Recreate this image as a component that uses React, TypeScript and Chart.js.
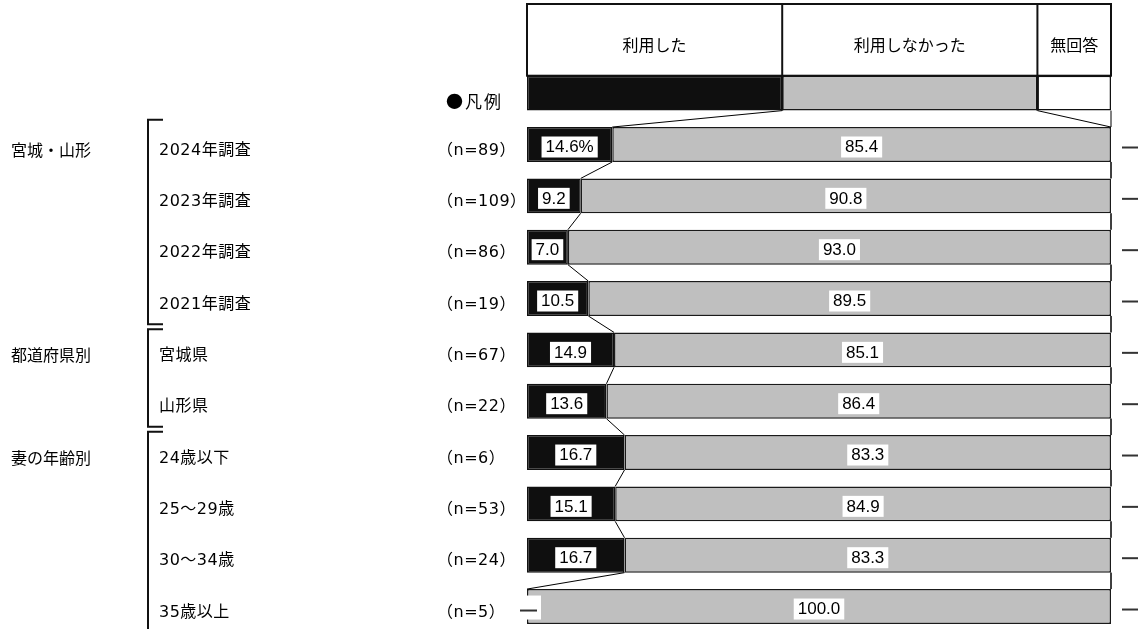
import React, { useEffect, useRef } from 'react';
import { Chart, registerables } from 'chart.js';

Chart.register(...registerables);

const legendLabel = '●凡例';
const seriesNames = ['利用した', '利用しなかった', '無回答'];
const legendShares = [43.7, 43.7, 12.6];
const groupLabels = ['宮城・山形', '都道府県別', '妻の年齢別'];
const groupSizes = [4, 2, 4];
const rowLabels = ['2024年調査', '2023年調査', '2022年調査', '2021年調査', '宮城県', '山形県', '24歳以下', '25～29歳', '30～34歳', '35歳以上'];
const sampleSizes = ['（n=89）', '（n=109）', '（n=86）', '（n=19）', '（n=67）', '（n=22）', '（n=6）', '（n=53）', '（n=24）', '（n=5）'];
const usedValues = [14.6, 9.2, 7.0, 10.5, 14.9, 13.6, 16.7, 15.1, 16.7, 0];
const notUsedValues = [85.4, 90.8, 93.0, 89.5, 85.1, 86.4, 83.3, 84.9, 83.3, 100.0];
const noAnswerValues = [0, 0, 0, 0, 0, 0, 0, 0, 0, 0];

const FONT_JP = '"Noto Sans CJK JP", "Noto Sans", sans-serif';
const FONT_MIX = '"DejaVu Sans", "Noto Sans CJK JP", sans-serif';
const FONT_NUM = '"Liberation Sans", Arial, sans-serif';

const decorPlugin = {
  id: 'decor',
  afterDatasetsDraw(chart: any) {
    const ctx: CanvasRenderingContext2D = chart.ctx;
    const xs = chart.scales.x;
    const ys = chart.scales.y;
    const area = chart.chartArea;
    const ds = chart.data.datasets;
    const n = chart.data.labels.length;
    const slot = (area.bottom - area.top) / n;
    const barH = chart.getDatasetMeta(1).data[0].height;
    const cy = (i: number) => ys.getPixelForValue(i);
    const cum = (i: number) => {
      const a = ds[0].data[i], b = ds[1].data[i], c = ds[2].data[i];
      return [a, a + b, a + b + c];
    };
    const px = (v: number) => xs.getPixelForValue(v);

    ctx.save();
    // series lines
    ctx.strokeStyle = '#000';
    ctx.lineWidth = 1;
    for (let i = 0; i < n - 1; i++) {
      const c0 = cum(i), c1 = cum(i + 1);
      for (let k = 0; k < 3; k++) {
        ctx.beginPath();
        ctx.moveTo(px(c0[k]), cy(i) + barH / 2);
        ctx.lineTo(px(c1[k]), cy(i + 1) - barH / 2);
        ctx.stroke();
      }
    }

    // header box above legend row
    const headTop = 4;
    const headBottom = cy(0) - barH / 2;
    const c0 = cum(0);
    const bounds = [0, c0[0], c0[1], c0[2]];
    ctx.lineWidth = 2;
    ctx.strokeStyle = '#111';
    ctx.fillStyle = '#fff';
    ctx.fillRect(px(0), headTop, px(c0[2]) - px(0), headBottom - headTop);
    ctx.strokeRect(px(0), headTop, px(c0[2]) - px(0), headBottom - headTop);
    for (let k = 1; k < 3; k++) {
      ctx.beginPath();
      ctx.moveTo(px(bounds[k]), headTop);
      ctx.lineTo(px(bounds[k]), cy(0) + barH / 2);
      ctx.stroke();
    }
    ctx.fillStyle = '#000';
    ctx.font = `16px ${FONT_JP}`;
    ctx.textAlign = 'center';
    ctx.textBaseline = 'middle';
    for (let k = 0; k < 3; k++) {
      ctx.fillText(seriesNames[k], (px(bounds[k]) + px(bounds[k + 1])) / 2, (headTop + headBottom) / 2 + 5);
    }

    // value labels
    ctx.font = `17px ${FONT_NUM}`;
    for (let i = 1; i < n; i++) {
      const y = cy(i);
      const c = cum(i);
      const segs = [[0, c[0]], [c[0], c[1]]];
      for (let k = 0; k < 2; k++) {
        const v = ds[k].data[i];
        if (v > 0) {
          let txt = v.toFixed(1);
          if (i === 1 && k === 0) txt += '%';
          const cx = (px(segs[k][0]) + px(segs[k][1])) / 2;
          const w = ctx.measureText(txt).width;
          ctx.fillStyle = '#fff';
          ctx.fillRect(cx - w / 2 - 4, y - 8, w + 8, 21);
          ctx.fillStyle = '#000';
          ctx.fillText(txt, cx, y + 3);
        } else {
          const x0 = px(segs[k][0]);
          ctx.fillStyle = '#fff';
          ctx.fillRect(x0, y - 11, 14, 24);
          ctx.strokeStyle = '#333';
          ctx.lineWidth = 2;
          ctx.beginPath();
          ctx.moveTo(x0 - 7, y + 4);
          ctx.lineTo(x0 + 10, y + 4);
          ctx.stroke();
        }
      }
      if (ds[2].data[i] === 0) {
        const xr = px(c[2]);
        ctx.strokeStyle = '#333';
        ctx.lineWidth = 2;
        ctx.beginPath();
        ctx.moveTo(xr + 11, y + 3);
        ctx.lineTo(xr + 27, y + 3);
        ctx.stroke();
      }
    }

    // left labels
    ctx.fillStyle = '#000';
    ctx.textAlign = 'left';
    ctx.textBaseline = 'middle';
    ctx.font = `17px ${FONT_JP}`;
    (ctx as any).letterSpacing = '2px';
    ctx.fillText(legendLabel, 446, cy(0) + 8);
    ctx.font = `16px ${FONT_MIX}`;
    (ctx as any).letterSpacing = '0.5px';
    for (let i = 1; i < n; i++) {
      ctx.fillText(rowLabels[i - 1], 159, cy(i) + 6);
      ctx.fillText(sampleSizes[i - 1], 437, cy(i) + 6);
    }
    (ctx as any).letterSpacing = '0px';
    ctx.font = `16px ${FONT_JP}`;
    let start = 1;
    ctx.strokeStyle = '#111';
    ctx.lineWidth = 2;
    groupSizes.forEach((size, g) => {
      const first = start;
      const last = start + size - 1;
      ctx.fillText(groupLabels[g], 11, cy(first) + 5);
      const top = cy(first) - slot / 2 + (g === 0 ? 1 : 5);
      const bottom = cy(last) + slot / 2;
      ctx.beginPath();
      ctx.moveTo(163, top);
      ctx.lineTo(148, top);
      ctx.lineTo(148, bottom);
      if (g < groupSizes.length - 1) ctx.lineTo(163, bottom);
      ctx.stroke();
      start += size;
    });
    ctx.restore();
  },
};

export default function App() {
  const ref = useRef<HTMLCanvasElement>(null);
  useEffect(() => {
    if (!ref.current) return;
    const labels = [legendLabel, ...rowLabels];
    const bw = (c: any) => (c.raw === 0 ? 0 : 1.5);
    const chart = new Chart(ref.current, {
      type: 'bar',
      data: {
        labels,
        datasets: [
          { label: seriesNames[0], data: [legendShares[0], ...usedValues], backgroundColor: '#0f0f0f', borderColor: '#111', borderWidth: bw, borderSkipped: false },
          { label: seriesNames[1], data: [legendShares[1], ...notUsedValues], backgroundColor: '#bfbfbf', borderColor: '#1a1a1a', borderWidth: bw, borderSkipped: false },
          { label: seriesNames[2], data: [legendShares[2], ...noAnswerValues], backgroundColor: '#ffffff', borderColor: '#111', borderWidth: bw, borderSkipped: false },
        ],
      },
      options: {
        indexAxis: 'y',
        responsive: false,
        animation: false,
        devicePixelRatio: 1,
        datasets: { bar: { barPercentage: 0.68, categoryPercentage: 1 } },
        layout: { padding: { left: 527, right: 28, top: 67.5, bottom: 7.8 } },
        scales: {
          x: { stacked: true, min: 0, max: 100, display: false },
          y: { stacked: true, display: false },
        },
        plugins: { legend: { display: false }, tooltip: { enabled: false } },
      },
      plugins: [decorPlugin],
    } as any);
    return () => chart.destroy();
  }, []);
  return (
    <div style={{ position: 'absolute', left: 0, top: 0, width: 1139, height: 629, overflow: 'hidden', background: '#fff' }}>
      <canvas ref={ref} width={1139} height={640} style={{ display: 'block' }} />
    </div>
  );
}
